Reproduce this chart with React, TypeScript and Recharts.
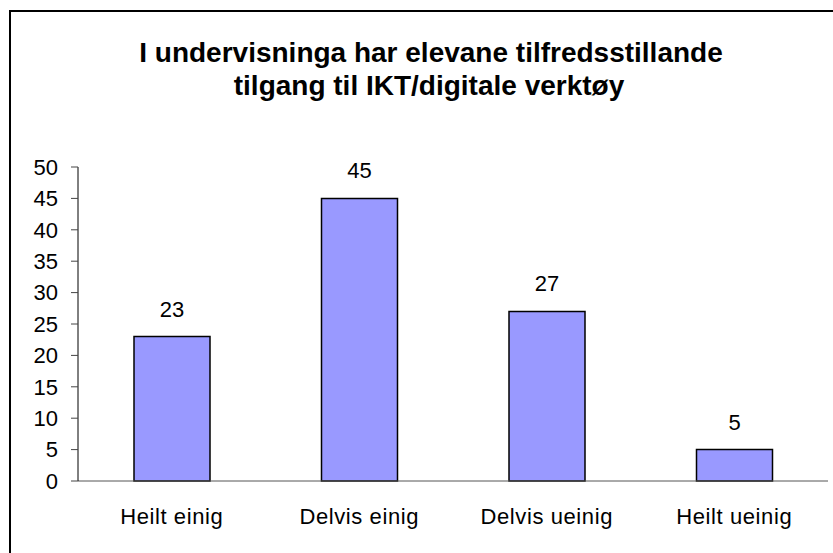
import React from 'react';
import { BarChart, Bar, XAxis, YAxis, LabelList } from 'recharts';

const categories = ['Heilt einig', 'Delvis einig', 'Delvis ueinig', 'Heilt ueinig'];
const values = [23, 45, 27, 5];
const yTicks = [0, 5, 10, 15, 20, 25, 30, 35, 40, 45, 50];
const boundaryTicks = [0, 1, 2, 3, 4];
const titleLines = ['I undervisninga har elevane tilfredsstillande', 'tilgang til IKT/digitale verktøy'];

const data = categories.map((c, i) => ({ name: c, value: values[i] }));

const FONT = 'Arial, "Liberation Sans", sans-serif';

export default function App() {
  return (
    <div style={{ position: 'absolute', left: 0, top: 0, width: 833, height: 553, overflow: 'hidden', background: '#fff', fontFamily: FONT }}>
      <div style={{ position: 'absolute', left: 9, top: 10, width: 900, height: 600, borderLeft: '2px solid #000', borderTop: '2px solid #000' }} />
      <svg width={833} height={553} style={{ position: 'absolute', left: 0, top: 0 }}>
        <text x={431} y={62} textAnchor="middle" fontFamily={FONT} fontWeight="bold" fontSize={28} fill="#000">{titleLines[0]}</text>
        <text x={429} y={95} textAnchor="middle" fontFamily={FONT} fontWeight="bold" fontSize={28} fill="#000">{titleLines[1]}</text>
      </svg>
      <div style={{ position: 'absolute', left: 0, top: 0 }}>
        <BarChart width={833} height={553} data={data} margin={{ top: 167, right: 5, bottom: 0, left: 0 }} barSize={76}>
          <XAxis
            xAxisId="b"
            type="number"
            dataKey="value"
            domain={[0, 4]}
            ticks={boundaryTicks}
            height={0}
            axisLine={false}
            tickSize={8}
            tickLine={{ stroke: '#444', strokeWidth: 1 }}
            tickFormatter={() => ''}
            allowDataOverflow
          />
          <XAxis
            xAxisId="cat"
            dataKey="name"
            height={72}
            tickLine={false}
            tickSize={8}
            tickMargin={19}
            axisLine={{ stroke: '#555', strokeWidth: 1 }}
            tick={{ fontSize: 22, fill: '#000', fontFamily: FONT, letterSpacing: 0.6 }}
            interval={0}
          />
          <YAxis
            width={78}
            domain={[0, 50]}
            ticks={yTicks}
            tickSize={7}
            tickMargin={13}
            axisLine={{ stroke: '#000', strokeWidth: 1 }}
            tickLine={{ stroke: '#444', strokeWidth: 1 }}
            tick={{ fontSize: 22, fill: '#000', fontFamily: FONT }}
            interval={0}
          />
          <Bar xAxisId="cat" dataKey="value" fill="#9999FF" stroke="#000" strokeWidth={1.5} isAnimationActive={false}>
            <LabelList dataKey="value" position="top" offset={20} fill="#000" fontSize={22} fontFamily={FONT} />
          </Bar>
        </BarChart>
      </div>
    </div>
  );
}
